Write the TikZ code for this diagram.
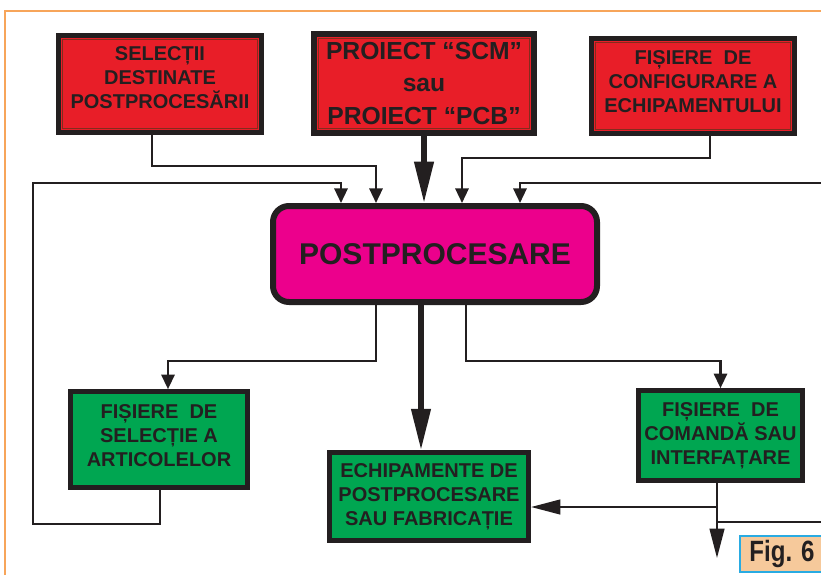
\documentclass[tikz,border=0pt]{standalone}
\usepackage{fontspec}
\setmainfont{Liberation Sans}
\usetikzlibrary{arrows.meta}

\definecolor{boxred}{RGB}{232,30,40}
\definecolor{boxrim}{RGB}{130,45,30}
\definecolor{boxpink}{RGB}{236,0,140}
\definecolor{boxgreen}{RGB}{0,166,81}
\definecolor{inkdark}{RGB}{35,31,32}
\definecolor{frameorange}{RGB}{247,165,90}
\definecolor{figfill}{RGB}{246,201,155}
\definecolor{figedge}{RGB}{41,171,226}

\tikzset{every picture/.style={line width=0.75pt}}
\tikzset{
  block/.style={draw=inkdark, line width=3.5pt, align=center, inner sep=0pt, text=inkdark,
    font=\bfseries\fontsize{15}{18}\selectfont},
  redblock/.style={block, fill=boxred, path picture={
    \draw[boxrim, line width=0.6pt]
      ([shift={(3.4pt,-3.4pt)}]path picture bounding box.north west) rectangle
      ([shift={(-3.4pt,3.4pt)}]path picture bounding box.south east);}},
  greenblock/.style={block, fill=boxgreen},
  wire/.style={draw=inkdark, line width=1.7pt},
  link/.style={wire, -{Triangle[length=11pt,width=10pt]}},
  sidelink/.style={wire, -{Triangle[length=22pt,width=11pt]}},
  heavy/.style={draw=inkdark, line width=4pt, -{Triangle[length=31pt,width=14pt]}},
  frameline/.style={draw=frameorange, line width=1.2pt},
  figtag/.style={draw=figedge, line width=1.5pt, fill=figfill, text=inkdark, inner sep=0pt,
    minimum width=63pt, minimum height=27pt, font=\bfseries\fontsize{22}{22}\selectfont},
}

\begin{document}
\begin{tikzpicture}[x=0.75pt,y=0.75pt,yscale=-1,xscale=1]
\useasboundingbox (0,0) rectangle (821,575);
%Frame
\draw[frameline] (5,575) -- (5,11) -- (823,11) ;

%Shape: Rectangle [inputs]
\node[redblock, minimum width=152.5pt, minimum height=73pt, text depth=9pt] (sel) at (160,84)
  {SELECȚII\\DESTINATE\\POSTPROCESĂRII};
\node[redblock, line width=4.5pt, minimum width=165pt, minimum height=74.25pt,
  font=\bfseries\fontsize{18.5}{24.5}\selectfont] (proj) at (424,83.5)
  {PROIECT “SCM”\\sau\\PROIECT “PCB”};
\node[redblock, minimum width=152.5pt, minimum height=71.5pt, text depth=6pt] (cfg) at (693,86)
  {FIȘIERE\ \ DE\\CONFIGURARE A\\ECHIPAMENTULUI};

%Shape: Rounded Rect
\node[block, line width=4.5pt, fill=boxpink, rounded corners=12pt, minimum width=243pt,
  minimum height=72pt, font=\bfseries\fontsize{22.5}{27}\selectfont] (post) at (435,254)
  {POSTPROCESARE};

%Shape: Rectangle [outputs]
\node[greenblock, minimum width=133pt, minimum height=72pt, text depth=6pt] (art) at (159,439.5)
  {FIȘIERE\ \ DE\\SELECȚIE A\\ARTICOLELOR};
\node[greenblock, minimum width=149.5pt, minimum height=66pt] (echip) at (429,496.5)
  {ECHIPAMENTE DE\\POSTPROCESARE\\SAU FABRICAȚIE};
\node[greenblock, minimum width=123pt, minimum height=67.5pt] (cmd) at (720.5,435.5)
  {FIȘIERE\ \ DE\\COMANDĂ SAU\\INTERFAȚARE};

%Bend points
\coordinate (selBend) at (376,166);
\coordinate (cfgBend) at (462,158);
\coordinate (fbLow) at (33,524);
\coordinate (fbHigh) at (341,183);
\coordinate (rightIn) at (823,183);
\coordinate (rightDrop) at (520,183);
\coordinate (outL) at (376,361);
\coordinate (outM) at (421,361);
\coordinate (outR) at (466,361);
\coordinate (cmdTap) at (717,507);
\coordinate (cmdSide) at (717,522);
\coordinate (cmdExit) at (717,558);
\coordinate (rightOut) at (823,522);

%Straight Lines [into POSTPROCESARE]
\draw[link] ([xshift=-6pt]sel.south) |- (selBend) -- (selBend |- post.north) ;
\draw[heavy] (proj.south) -- (proj.south |- post.north) ;
\draw[link] ([xshift=12.75pt]cfg.south) |- (cfgBend) -- (cfgBend |- post.north) ;
\draw[link] ([xshift=0.75pt]art.south) |- (fbLow) |- (fbHigh) -- (fbHigh |- post.north) ;
\draw[link] (rightIn) -| (rightDrop |- post.north) ;

%Straight Lines [out of POSTPROCESARE]
\draw[link] (outL |- post.south) -- (outL) -| ([xshift=6.75pt]art.north) ;
\draw[heavy] (outM |- post.south) -- (outM |- echip.north) ;
\draw[link] (outR |- post.south) -- (outR) -| (cmd.north) ;

%Straight Lines [comanda]
\draw[sidelink] (cmd.south -| cmdTap) -- (cmdExit) ;
\draw[sidelink] (cmdTap) -- (cmdTap -| echip.east) ;
\draw[wire] (cmdSide) -- (rightOut) ;

% Text Node
\node[figtag] (fig) at (782,554) {\scalebox{0.82}[1]{Fig. 6}};
\end{tikzpicture}
\end{document}
